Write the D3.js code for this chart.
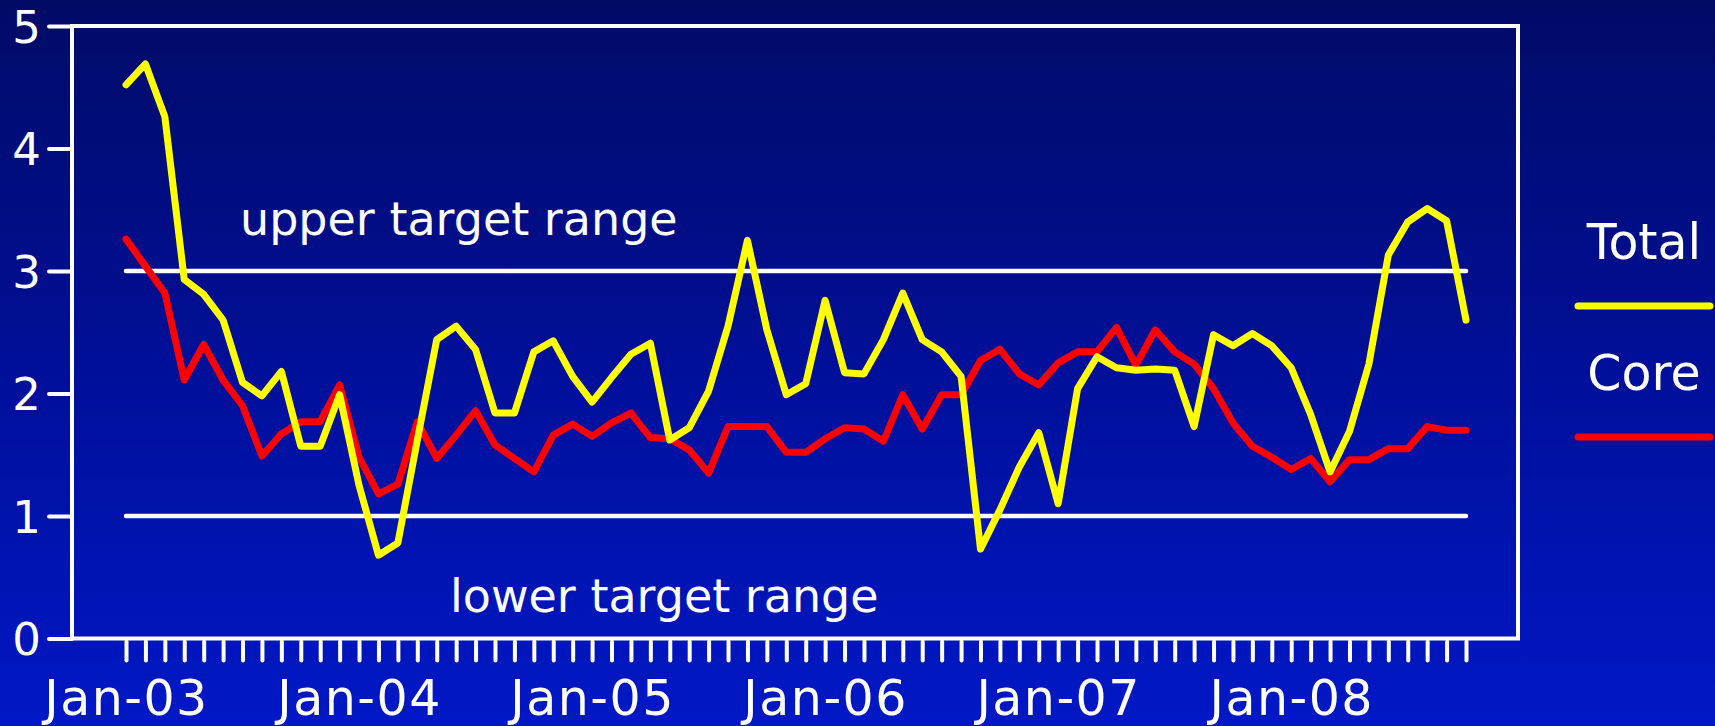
<!DOCTYPE html>
<html>
<head>
<meta charset="utf-8">
<script src="https://cdn.jsdelivr.net/npm/d3@7"></script>
<style>
  html, body { margin: 0; padding: 0; background: #000c66; }
  svg { display: block; }
</style>
</head>
<body>
<div id="chart"></div>
<script>
// Monthly categories, Jan-03 .. Oct-08
const months = d3.timeMonth.range(new Date(2003, 0, 1), new Date(2008, 10, 1));
const monthLabels = months.map(d3.timeFormat("%b-%y"));
const tickLabels = ["Jan-03", "Jan-04", "Jan-05", "Jan-06", "Jan-07", "Jan-08"];
const yTicks = [0, 1, 2, 3, 4, 5];

const total = [
  4.52, 4.69, 4.26, 2.93, 2.81, 2.60, 2.09, 1.98, 2.18, 1.57,
  1.57, 1.99, 1.25, 0.68, 0.78, 1.62, 2.44, 2.55, 2.36, 1.84,
  1.84, 2.34, 2.43, 2.14, 1.93, 2.13, 2.32, 2.41, 1.62, 1.72,
  2.02, 2.55, 3.25, 2.52, 1.99, 2.08, 2.76, 2.17, 2.16, 2.44,
  2.82, 2.44, 2.34, 2.14, 0.73, 1.05, 1.40, 1.68, 1.10, 2.04,
  2.30, 2.21, 2.19, 2.20, 2.19, 1.73, 2.48, 2.39, 2.49, 2.39,
  2.21, 1.83, 1.36, 1.69, 2.24, 3.13, 3.40, 3.51, 3.41, 2.60
];
const core = [
  3.26, 3.04, 2.82, 2.11, 2.40, 2.11, 1.90, 1.49, 1.67, 1.77,
  1.77, 2.07, 1.48, 1.18, 1.26, 1.77, 1.47, 1.66, 1.86, 1.58,
  1.47, 1.36, 1.66, 1.75, 1.65, 1.76, 1.84, 1.64, 1.63, 1.54,
  1.35, 1.73, 1.73, 1.73, 1.52, 1.52, 1.63, 1.72, 1.71, 1.61,
  1.99, 1.71, 1.99, 1.99, 2.27, 2.36, 2.16, 2.07, 2.25, 2.34,
  2.34, 2.54, 2.23, 2.52, 2.34, 2.24, 2.04, 1.76, 1.57, 1.48,
  1.38, 1.47, 1.28, 1.46, 1.46, 1.55, 1.55, 1.73, 1.70, 1.70
];
const targets = [
  { value: 3, label: "upper target range" },
  { value: 1, label: "lower target range" }
];
const seriesNames = ["Total", "Core"];

const W = 1715, H = 726;
const font = "'DejaVu Sans', Verdana, sans-serif";
const plot = { left: 72, right: 1518, top: 26, bottom: 638.5 };

const svg = d3.select("#chart").append("svg")
  .attr("width", W)
  .attr("height", H);

// fond dégradé
const grad = svg.append("defs").append("linearGradient")
  .attr("id", "bg").attr("x1", 0).attr("y1", 0).attr("x2", 0).attr("y2", 1);
grad.append("stop").attr("offset", "0%").attr("stop-color", "#000b66");
grad.append("stop").attr("offset", "50%").attr("stop-color", "#000f98");
grad.append("stop").attr("offset", "100%").attr("stop-color", "#0018c6");
svg.append("rect").attr("width", W).attr("height", H).attr("fill", "url(#bg)");

// scales
const x = d3.scalePoint()
  .domain(monthLabels)
  .range([126, 1466]);

const y = d3.scaleLinear()
  .domain([0, 5])
  .range([plot.bottom, plot.top]);

// frame
svg.append("rect")
  .attr("x", plot.left)
  .attr("y", plot.top)
  .attr("width", plot.right - plot.left)
  .attr("height", plot.bottom - plot.top)
  .attr("fill", "none")
  .attr("stroke", "#fff")
  .attr("stroke-width", 4);

// y axis
const yAxis = svg.append("g")
  .attr("transform", `translate(${plot.left},0)`)
  .call(d3.axisLeft(y).tickValues(yTicks).tickSize(23).tickPadding(8).tickFormat(d3.format("d")));
yAxis.select(".domain").remove();
yAxis.selectAll(".tick line")
  .attr("stroke", "#fff").attr("stroke-width", 4).attr("stroke-linecap", "round");
yAxis.selectAll(".tick text")
  .attr("fill", "#fff")
  .attr("font-family", font)
  .attr("font-size", 45)
  .attr("x", -31)
  .attr("dy", "0.36em");

// x axis
const xAxis = svg.append("g")
  .attr("transform", `translate(0,${plot.bottom})`)
  .call(d3.axisBottom(x).tickSize(22).tickFormat(d => tickLabels.includes(d) ? d : ""));
xAxis.select(".domain").remove();
xAxis.selectAll(".tick line")
  .attr("y1", 3)
  .attr("stroke", "#fff").attr("stroke-width", 4).attr("stroke-linecap", "round");
xAxis.selectAll(".tick text")
  .attr("fill", "#fff")
  .attr("font-family", font)
  .attr("font-size", 49)
  .attr("letter-spacing", 1.5)
  .attr("y", 76)
  .attr("dy", 0);

// target lines
const x0 = x(monthLabels[0]), x1 = x(monthLabels[monthLabels.length - 1]);
svg.selectAll(".target")
  .data(targets)
  .enter()
  .append("line")
  .attr("class", "target")
  .attr("x1", x0).attr("x2", x1)
  .attr("y1", d => y(d.value)).attr("y2", d => y(d.value))
  .attr("stroke", "#fff")
  .attr("stroke-width", 4.5)
  .attr("stroke-linecap", "round");

svg.append("text")
  .attr("x", 240).attr("y", 235)
  .attr("fill", "#fff").attr("font-family", font).attr("font-size", 46)
  .text(targets[0].label);
svg.append("text")
  .attr("x", 450).attr("y", 612)
  .attr("fill", "#fff").attr("font-family", font).attr("font-size", 46)
  .text(targets[1].label);

// series
const line = d3.line()
  .x((d, i) => x(monthLabels[i]))
  .y(d => y(d));

const series = [
  { name: seriesNames[0], values: total, color: "#ffff00" },
  { name: seriesNames[1], values: core, color: "#ff0000" }
];

svg.selectAll(".series")
  .data(series.slice().reverse())
  .enter()
  .append("path")
  .attr("class", "series")
  .attr("d", d => line(d.values))
  .attr("fill", "none")
  .attr("stroke", d => d.color)
  .attr("stroke-width", 7)
  .attr("stroke-linejoin", "round")
  .attr("stroke-linecap", "round");

// legend
const legend = svg.selectAll(".legend")
  .data(series)
  .enter()
  .append("g")
  .attr("class", "legend")
  .attr("transform", (d, i) => `translate(1644,${259 + i * 131})`);

legend.append("text")
  .attr("text-anchor", "middle")
  .attr("fill", "#fff")
  .attr("font-family", font)
  .attr("font-size", 49)
  .text(d => d.name);

legend.append("line")
  .attr("x1", -66).attr("x2", 66)
  .attr("y1", 47).attr("y2", 47)
  .attr("stroke", d => d.color)
  .attr("stroke-width", 7)
  .attr("stroke-linecap", "round");
</script>
</body>
</html>
